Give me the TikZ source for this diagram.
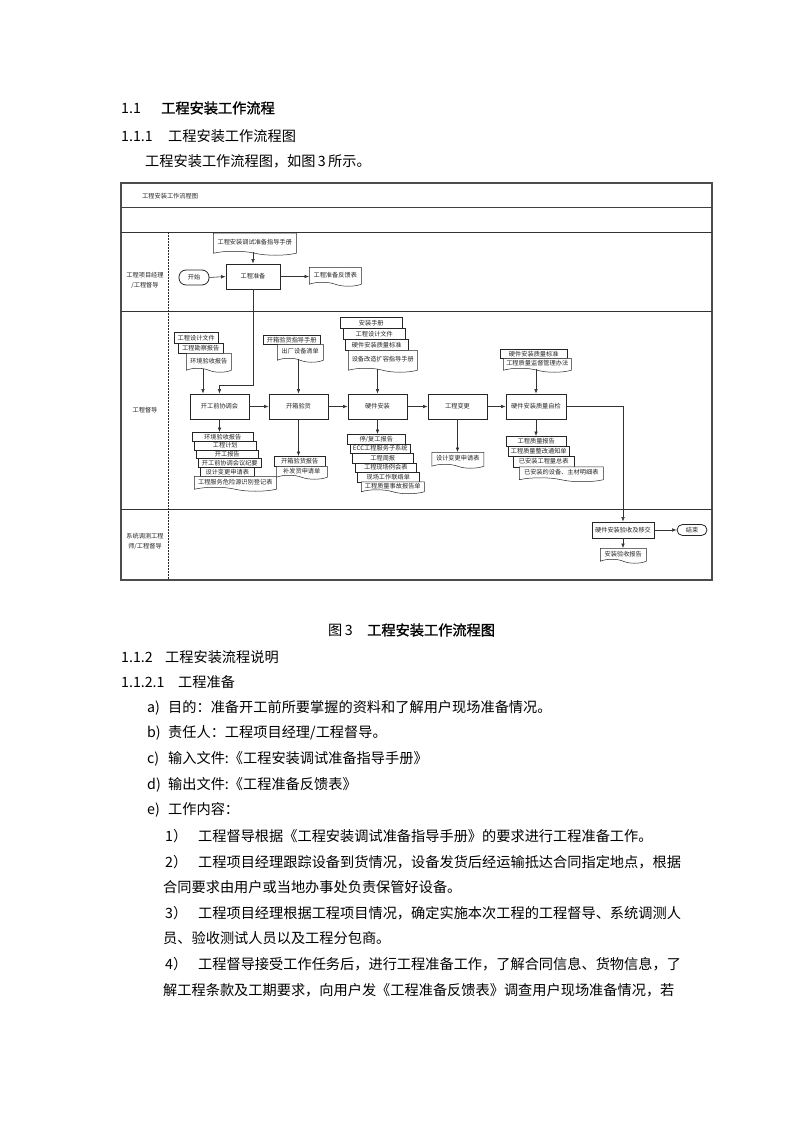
\documentclass[tikz,border=0pt]{standalone}
\usepackage{fontspec}
\setmainfont{Noto Sans CJK SC}
\newfontfamily\cjkb[FakeBold=1.2]{Noto Sans CJK SC}
\usetikzlibrary{arrows.meta,shapes.symbols,calc}
\newcommand\dfont{\fontsize{6.2}{7}\selectfont}
\newcommand\bfont{\fontsize{14.2}{16}\selectfont}
\newcommand\mkdoc[6]{\node[sdoc,minimum width=#4,minimum height=#5] (#1) at (#2,#3) {#6};}
\newcommand\mkwdoc[6]{\node[wdoc,minimum width=#4,minimum height=#5] (#1) at (#2,#3) {#6};}
\tikzset{
  body/.style={font=\bfont, inner sep=0pt, anchor=west, text=black},
  ln/.style={draw=black!80, line width=0.6pt},
  arr/.style={ln, -{Latex[length=4.5pt,width=3.6pt]}},
  box/.style={draw=black!85, line width=0.9pt, fill=white, minimum width=59, minimum height=25, inner sep=0pt, font=\dfont, text=black!85},
  term/.style={draw=black!85, line width=0.8pt, fill=white, rounded corners=7pt, minimum width=30, minimum height=15, inner sep=0pt, font=\dfont, text=black!85},
  sdoc/.style={rectangle, draw=black!85, line width=0.5pt, fill=white, inner sep=0pt, anchor=north west, font=\dfont, text=black!85},
  wdoc/.style={sdoc, tape, tape bend top=none, tape bend bottom=out and in, tape bend height=4pt},
  lane/.style={font=\fontsize{6.2}{10}\selectfont, align=center, inner sep=0pt, text=black!85},
}
\begin{document}
\begin{tikzpicture}[x=1pt,y=-1pt]
\useasboundingbox (0,0) rectangle (794,1123);
\fill[white] (0,0) rectangle (794,1123);

% ---------- heading text ----------
\node[body] (h1) at (121,108) {\makebox[40pt][l]{1.1}{\cjkb 工程安装工作流程}};
\node[body] (h2) at (121,136) {\makebox[47pt][l]{1.1.1}工程安装工作流程图};
\node[body] (h3) at (145,161) {工程安装工作流程图，如图\,3\,所示。};

% ---------- frame ----------
\draw[draw=black!70, line width=1.2pt] (121,183) rectangle (712,580);
\draw[draw=black!75, line width=1.6pt] (121,207.5) -- (712,207.5);
\draw[ln] (121,232) -- (712,232);
\draw[ln] (121,311) -- (712,311);
\draw[ln] (121,509) -- (712,509);
\draw[draw=black!85, line width=0.6pt, dash pattern=on 2pt off 1pt] (168,232) -- (168,580);
\node[anchor=west, font=\dfont, inner sep=0pt, text=black!85] (title) at (142,196) {工程安装工作流程图};
\node[lane] (l1) at (145,280) {工程项目经理\\/工程督导};
\node[lane] (l2) at (145,410) {工程督导};
\node[lane] (l3) at (145,541) {系统调测工程\\师/工程督导};

% ---------- lane 1 ----------
\node[term] (st) at (194,277.5) {开始};
\node[box, minimum width=54] (prep) at (253,276.5) {工程准备};
\mkwdoc{man}{213}{233}{83}{22}{工程安装调试准备指导手册}
\mkwdoc{fb}{309}{267}{52}{19}{工程准备反馈表}

% ---------- lane 2 boxes ----------
\node[box] (A) at (219.5,406.5) {开工前协调会};
\node[box] (B) at (298.5,406.5) {开箱验货};
\node[box] (C) at (377.5,406.5) {硬件安装};
\node[box] (D) at (457.5,406.5) {工程变更};
\node[box, minimum width=60] (E) at (536,406.5) {硬件安装质量自检};

% docs above A
\mkdoc{a1}{174}{332}{44}{11}{工程设计文件}
\mkdoc{a2}{178}{343}{45}{10}{工程勘察报告}
\mkwdoc{a3}{186}{353}{45}{19}{环境验收报告}
% docs below A
\mkdoc{ab1}{192}{432}{61}{9}{环境验收报告}
\mkdoc{ab2}{194}{441}{62}{8.5}{工程计划}
\mkdoc{ab3}{196}{449.5}{62}{8.5}{开工报告}
\mkdoc{ab4}{198}{458}{63}{9}{开工前协调会议纪要}
\mkdoc{ab5}{200}{467}{54}{9}{设计变更申请表}
\mkwdoc{ab6}{194}{476}{82}{15}{工程服务危险源识别登记表}
% docs B
\mkdoc{b1}{263}{335}{57}{9}{开箱验货指导手册}
\mkwdoc{b2}{277}{344}{46}{18}{出厂设备清单}
\mkdoc{bb1}{274}{456}{51}{10}{开箱验货报告}
\mkwdoc{bb2}{276}{466}{51}{13}{补发货申请单}
% docs C
\mkdoc{c1}{340}{317}{62}{11}{安装手册}
\mkdoc{c2}{343}{328}{62}{11}{工程设计文件}
\mkdoc{c3}{345}{339}{63}{11}{硬件安装质量标准}
\mkwdoc{c4}{348}{350}{69}{22}{设备改造扩容指导手册}
\mkdoc{cb1}{347}{434}{58}{9.5}{停/复工报告}
\mkdoc{cb2}{350}{443.5}{60}{9.5}{ECC工程服务子系统}
\mkdoc{cb3}{352}{453}{61}{9.5}{工程周报}
\mkdoc{cb4}{355}{462.5}{61}{9.5}{工程现场例会表}
\mkdoc{cb5}{357}{472}{62}{9.5}{现场工作联络单}
\mkwdoc{cb6}{361}{481.5}{63}{12}{工程质量事故报告单}
% docs D
\mkwdoc{d1}{431.5}{452}{52}{16}{设计变更申请表}
% docs E
\mkdoc{e1}{500}{349}{67}{9}{硬件安装质量标准}
\mkwdoc{e2}{503}{358}{68}{14}{工程质量监督管理办法}
\mkdoc{eb1}{506}{436}{60}{9.5}{工程质量报告}
\mkdoc{eb2}{508}{445.5}{61}{10}{工程质量整改通知单}
\mkdoc{eb3}{513}{455.5}{61}{11}{已安装工程量总表}
\mkwdoc{eb4}{519}{466.5}{84}{15}{已安装的设备、主材明细表}

% ---------- lane 3 ----------
\node[box, minimum width=62, minimum height=16] (F) at (623,530) {硬件安装验收及移交};
\node[term, minimum height=11, rounded corners=5.5pt] (G) at (692,530) {结束};
\mkwdoc{hh}{600}{548}{46}{15}{安装验收报告}

% ---------- connectors ----------
\draw[arr] (st.east) -- (prep.west);
\draw[arr] (prep.east) -- (prep.east -| fb.west);
\draw[arr] (man.south -| prep.north) -- (prep.north);
\coordinate (k1) at (253,385);
\draw[arr] (prep.south) -- (k1) -| (A.north);
\coordinate (xa) at (203,0);
\draw[arr] (a3.south -| xa) -- (A.north -| xa);
\draw[arr] (A.south) -- (A.south |- ab1.north);
\draw[arr] (A.east) -- (B.west);
\draw[arr] (B.east) -- (C.west);
\draw[arr] (C.east) -- (D.west);
\draw[arr] (D.east) -- (E.west);
\draw[arr] (b2.south -| B.north) -- (B.north);
\draw[arr] (B.south) -- (B.south |- bb1.north);
\draw[arr] (c4.south -| C.north) -- (C.north);
\draw[arr] (C.south) -- (C.south |- cb1.north);
\draw[arr] (D.south) -- (D.south |- d1.north);
\draw[arr] (e2.south -| E.north) -- (E.north);
\draw[arr] (E.south) -- (E.south |- eb1.north);
\draw[arr] (E.east) -| (F.north);
\draw[arr] (F.east) -- (G.west);
\draw[arr] (F.south) -- (F.south |- hh.north);

% ---------- body text ----------
\node[body] (cap) at (328,630) {\makebox[39pt][l]{图\,3}{\cjkb 工程安装工作流程图}};
\node[body] (s1) at (121,657) {\makebox[44pt][l]{1.1.2}工程安装流程说明};
\node[body] (s2) at (121,682) {\makebox[57pt][l]{1.1.2.1}工程准备};
\node[body] (pa) at (147,708) {\makebox[21pt][l]{a)}目的：准备开工前所要掌握的资料和了解用户现场准备情况。};
\node[body] (pb) at (147,733) {\makebox[21pt][l]{b)}责任人：工程项目经理/工程督导。};
\node[body] (pc) at (147,759) {\makebox[21pt][l]{c)}输入文件:《工程安装调试准备指导手册》};
\node[body] (pd) at (147,785) {\makebox[21pt][l]{d)}输出文件:《工程准备反馈表》};
\node[body] (pe) at (147,810) {\makebox[21pt][l]{e)}工作内容：};
\node[body] (q1) at (165,836) {\makebox[33pt][l]{1）}工程督导根据《工程安装调试准备指导手册》的要求进行工程准备工作。};
\node[body] (q2) at (165,862) {\makebox[33pt][l]{2）}工程项目经理跟踪设备到货情况，设备发货后经运输抵达合同指定地点，根据};
\node[body] (q2b) at (163,887) {合同要求由用户或当地办事处负责保管好设备。};
\node[body] (q3) at (165,913) {\makebox[33pt][l]{3）}工程项目经理根据工程项目情况，确定实施本次工程的工程督导、系统调测人};
\node[body] (q3b) at (163,938) {员、验收测试人员以及工程分包商。};
\node[body] (q4) at (165,964) {\makebox[33pt][l]{4）}工程督导接受工作任务后，进行工程准备工作，了解合同信息、货物信息，了};
\node[body] (q4b) at (163,990) {解工程条款及工期要求，向用户发《工程准备反馈表》调查用户现场准备情况，若};
\end{tikzpicture}
\end{document}
